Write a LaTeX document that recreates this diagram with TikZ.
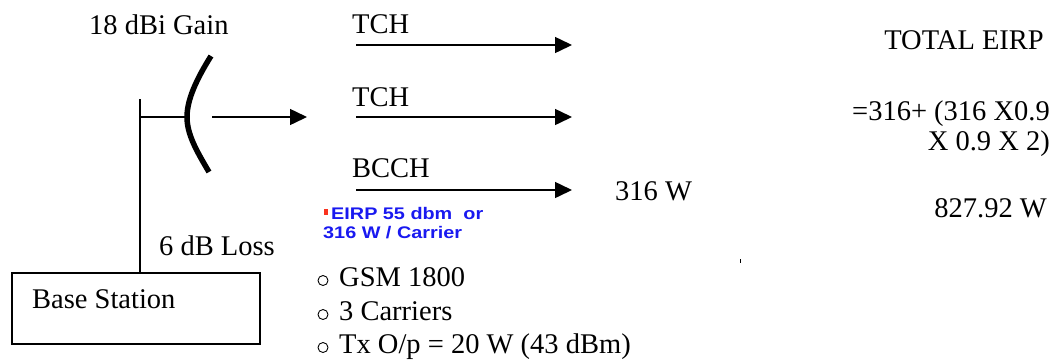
\documentclass[tikz,border=0pt]{standalone}
\usepackage{fontspec}
\setmainfont{Liberation Serif}
\newfontfamily\labelsans[FakeStretch=1.18]{Liberation Sans}
\usetikzlibrary{arrows.meta}
\definecolor{eirpblue}{RGB}{25,25,240}
\definecolor{eirpred}{RGB}{250,50,30}

\begin{document}
\begin{tikzpicture}[x=1pt,y=-1pt,
  txt/.style={inner sep=0pt, font=\fontsize{28.5}{34}\selectfont},
  bul/.style={line width=0.9pt},
  bluetxt/.style={inner sep=0pt, text=eirpblue,
    font=\labelsans\bfseries\fontsize{16.8}{19}\selectfont},
  wire/.style={line width=1.5pt},
  sig/.style={line width=1.5pt, -{Triangle[length=17pt,width=16pt]}},
  dish/.style={line width=5.5pt}]

\useasboundingbox (0,0) rectangle (1056,360);

% base station and feeder
\node[draw, line width=1.5pt, minimum width=248pt, minimum height=71pt,
      inner sep=0pt, anchor=north west] (bs) at (11,272) {};
\node[txt, anchor=base west] (bslabel) at (32,308) {Base Station};
\coordinate (mastfoot) at (140,272);
\coordinate (masttop) at (140,99);
\coordinate (feedend) at (186,117);
\coordinate (feedstart) at (140,117);
\draw[wire] (mastfoot) -- (masttop);
\draw[wire] (feedstart) -- (feedend);
\node[txt, anchor=base west] (loss) at (159,255) {6 dB Loss};

% antenna reflector
\coordinate (dishtop) at (211,56);
\coordinate (dishmid) at (187,117);
\coordinate (dishbot) at (209,172);
\draw[dish] (dishtop) .. controls (196,80) and (187,100) .. (dishmid)
            .. controls (187,134) and (196,150) .. (dishbot);
\node[txt, anchor=base west] (gain) at (89,34) {18 dBi Gain};

% radiated beam
\coordinate (beamstart) at (212,117);
\coordinate (beamend) at (307,117);
\draw[sig] (beamstart) -- (beamend);

% carriers
\coordinate (c1s) at (356,45);  \coordinate (c1e) at (572,45);
\coordinate (c2s) at (356,117); \coordinate (c2e) at (572,117);
\coordinate (c3s) at (356,190); \coordinate (c3e) at (572,190);
\draw[sig] (c1s) -- (c1e);
\draw[sig] (c2s) -- (c2e);
\draw[sig] (c3s) -- (c3e);
\node[txt, anchor=base west] (tch1) at (352,33) {TCH};
\node[txt, anchor=base west] (tch2) at (352,106) {TCH};
\node[txt, anchor=base west] (bcch) at (352,177) {BCCH};
\node[txt, anchor=base west] (pw) at (615,200) {316 W};

% EIRP note
\fill[eirpred] (324,209) rectangle (328,215);
\node[bluetxt, anchor=base west] (eirp1) at (331,219) {EIRP 55 dbm\ \ or};
\node[bluetxt, anchor=base west] (eirp2) at (323,238) {316 W / Carrier};

% station parameters
\draw[bul] (323,280.5) circle (5);
\draw[bul] (323,314.5) circle (5);
\draw[bul] (323,347.5) circle (5);
\node[txt, anchor=base west] (p1) at (339,286) {GSM 1800};
\node[txt, anchor=base west] (p2) at (339,320) {3 Carriers};
\node[txt, anchor=base west] (p3) at (339,353) {Tx O/p = 20 W (43 dBm)};

% total EIRP calculation
\node[txt, anchor=base east] (tot) at (1044,49) {TOTAL EIRP};
\node[txt, anchor=base east] (calc1) at (1050,120) {=316+ (316 X0.9};
\node[txt, anchor=base east] (calc2) at (1050,150) {X 0.9 X 2)};
\node[txt, anchor=base east] (res) at (1047,217) {827.92 W};

% small stray mark
\draw[line width=1pt] (740,259) -- (740,263);
\end{tikzpicture}
\end{document}
